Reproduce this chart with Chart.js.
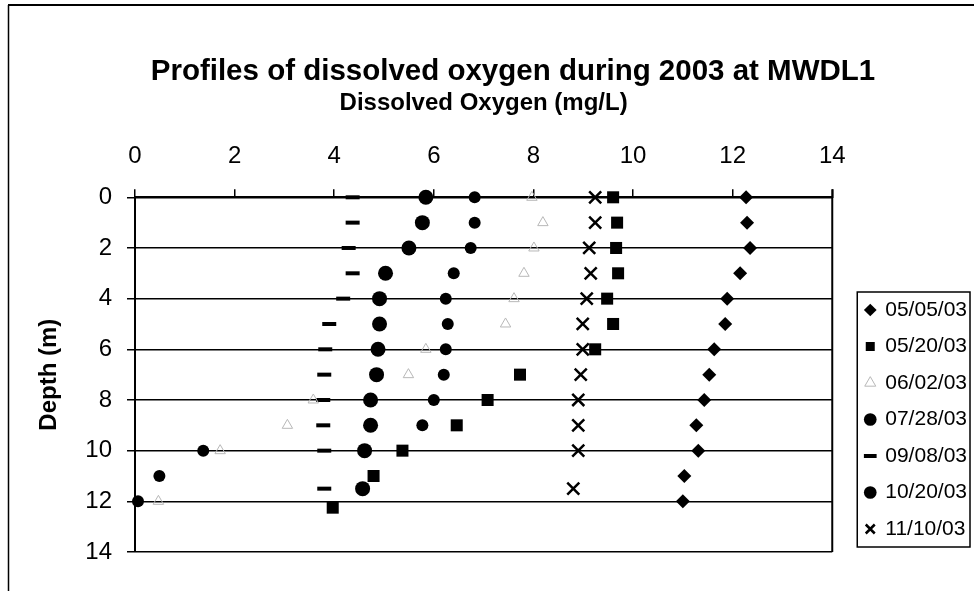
<!DOCTYPE html>
<html><head><meta charset="utf-8">
<script src="https://cdn.jsdelivr.net/npm/chart.js@4.4.1/dist/chart.umd.min.js"></script>
<style>html,body{margin:0;padding:0;background:#fff;}canvas{display:block;}</style>
</head><body>
<canvas id="c" width="974" height="591"></canvas>
<script>
// ---- data ----
const seriesNames = ['05/05/03','05/20/03','06/02/03','07/28/03','09/08/03','10/20/03','11/10/03'];
const depth0505 = [0,1,2,3,4,5,6,7,8,9,10,11,12];
const do0505    = [12.27,12.29,12.35,12.15,11.89,11.85,11.63,11.53,11.43,11.27,11.31,11.03,11.0];
const depth0520 = [0,1,2,3,4,5,6,7,8,9,10,11,12.25];
const do0520    = [9.6,9.68,9.66,9.7,9.48,9.6,9.24,7.73,7.08,6.46,5.37,4.79,3.97];
const depth0602 = [0,1,2,3,4,5,6,7,8,9,10,12];
const do0602    = [7.97,8.19,8.01,7.81,7.61,7.44,5.84,5.49,3.58,3.06,1.71,0.47];
const depth0728 = [0,1,2,3,4,5,6,7,8,9,10,11,12];
const do0728    = [6.82,6.82,6.74,6.4,6.24,6.28,6.24,6.2,6.0,5.77,1.37,0.49,0.06];
const depth0908 = [0,1,2,3,4,5,6,7,8,9,10,11.5];
const do0908    = [4.37,4.37,4.29,4.37,4.18,3.9,3.82,3.8,3.78,3.78,3.8,3.8];
const depth1020 = [0,1,2,3,4,5,6,7,8,9,10,11.5];
const do1020    = [5.84,5.77,5.5,5.03,4.91,4.91,4.88,4.85,4.73,4.73,4.61,4.57];
const depth1110 = [0,1,2,3,4,5,6,7,8,9,10,11.5];
const do1110    = [9.24,9.24,9.12,9.15,9.07,8.99,8.99,8.95,8.9,8.9,8.9,8.8];
const xTicks = [0,2,4,6,8,10,12,14];
const yTicks = [0,2,4,6,8,10,12,14];

const titleText = 'Profiles of dissolved oxygen during 2003 at MWDL1';
const xTitle = 'Dissolved Oxygen (mg/L)';
const yTitle = 'Depth (m)';

// ---- styles ----
const FONT = "'Liberation Sans', Arial, sans-serif";
Chart.defaults.font.family = FONT;
Chart.defaults.color = '#000';

const pairs = [[do0505,depth0505],[do0520,depth0520],[do0602,depth0602],[do0728,depth0728],[do0908,depth0908],[do1020,depth1020],[do1110,depth1110]];
const styles = [
  {pointStyle:'rectRot', r:7,   bg:'#000', bc:'#000', bw:0},
  {pointStyle:'rect',    r:8.5, bg:'#000', bc:'#000', bw:0},
  {pointStyle:'triangle',r:6,   bg:'rgba(0,0,0,0)', bc:'#b8b8b8', bw:1},
  {pointStyle:'circle',  r:6,   bg:'#000', bc:'#000', bw:0},
  {pointStyle:'line',    r:7,   bg:'#000', bc:'#000', bw:4},
  {pointStyle:'circle',  r:7.5, bg:'#000', bc:'#000', bw:0},
  {pointStyle:'crossRot',r:8.5, bg:'#000', bc:'#000', bw:2.5}
];
const datasets = seriesNames.map((name,i)=>({
  label: name,
  data: pairs[i][0].map((v,k)=>({x:v, y:pairs[i][1][k]})),
  showLine:false,
  clip:false,
  pointStyle: styles[i].pointStyle,
  pointRadius: styles[i].r,
  pointHoverRadius: styles[i].r,
  pointBackgroundColor: styles[i].bg,
  pointBorderColor: styles[i].bc,
  pointBorderWidth: styles[i].bw,
  backgroundColor: styles[i].bg,
  borderColor: styles[i].bc,
  borderWidth: styles[i].bw
}));

const LEG_PAD = 15.5;
const frame = {
  id:'frame',
  beforeDraw(chart){
    const ctx = chart.ctx;
    ctx.save();
    ctx.fillStyle = '#fff';
    ctx.fillRect(0,0,chart.width,chart.height);
    ctx.strokeStyle = '#000';
    ctx.lineWidth = 2;
    ctx.beginPath(); ctx.moveTo(8,5); ctx.lineTo(chart.width,5); ctx.stroke();
    ctx.lineWidth = 1.5;
    ctx.beginPath(); ctx.moveTo(8.5,5); ctx.lineTo(8.5,chart.height); ctx.stroke();
    ctx.restore();
  },
  afterLayout(chart){
    const lg = chart.legend;
    lg.left += 18; lg.right += 18; lg.top += 3; lg.bottom += 3;
  },
  afterDraw(chart){
    const ctx = chart.ctx, a = chart.chartArea;
    ctx.save();
    ctx.strokeStyle = '#000';
    ctx.lineWidth = 2;
    ctx.beginPath(); ctx.moveTo(a.right, a.top - 8); ctx.lineTo(a.right, a.bottom); ctx.stroke();
    const lg = chart.legend, cs = lg.columnSizes[0];
    const x0 = lg.left + LEG_PAD - 8.5, x1 = lg.left + LEG_PAD + cs.width + 3;
    const y0 = lg.bottom - cs.height - 7.5, y1 = lg.bottom - LEG_PAD + 7.5;
    ctx.lineWidth = 1.5;
    ctx.strokeRect(x0, y0, x1 - x0, y1 - y0);
    ctx.restore();
  }
};

new Chart(document.getElementById('c'), {
  type:'scatter',
  data:{datasets},
  plugins:[frame],
  options:{
    responsive:false, animation:false,
    layout:{padding:{left:67, right:15, top:0, bottom:39}},
    plugins:{
      title:{display:true, text:titleText, color:'#000', font:{size:29.5, weight:'bold'}, padding:{top:54.3, bottom:2}},
      legend:{position:'right', align:'end', fullSize:false,
        labels:{usePointStyle:true, boxWidth:9, boxHeight:9, padding:LEG_PAD, color:'#000', font:{size:21}}},
      tooltip:{enabled:false}
    },
    scales:{
      x:{type:'linear', position:'top', min:0, max:14,
        afterBuildTicks: s => { s.ticks = xTicks.map(v=>({value:v})); },
        ticks:{font:{size:24}, color:'#000', padding:18.6},
        grid:{display:true, drawOnChartArea:false, drawTicks:true, tickLength:8, color:'#000', lineWidth:1.5},
        border:{display:true, color:'#000', width:2},
        title:{display:true, text:xTitle, color:'#000', font:{size:24, weight:'bold'}, padding:{top:-2.8, bottom:0}},
        afterFit: s => { s.height = 197 - 91.4; }
      },
      y:{type:'linear', reverse:true, min:0, max:14,
        afterBuildTicks: s => { s.ticks = yTicks.map(v=>({value:v})); },
        ticks:{font:{size:24}, color:'#000', padding:15},
        grid:{color:'#000', lineWidth:1.5, drawTicks:true, tickLength:8},
        border:{display:true, color:'#000', width:2},
        title:{display:true, text:yTitle, color:'#000', font:{size:24, weight:'bold'}, padding:{top:-31.7, bottom:0}},
        afterFit: s => { s.width = 135 - 67; }
      }
    }
  }
});
</script>
</body></html>
